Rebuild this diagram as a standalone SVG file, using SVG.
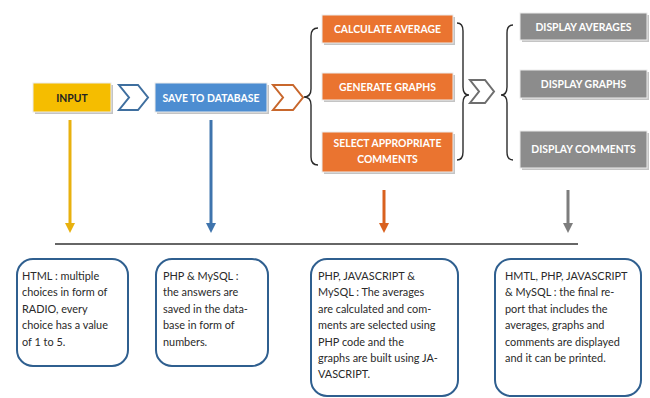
<svg xmlns="http://www.w3.org/2000/svg" width="650" height="398" viewBox="0 0 650 398">
  <style>
    .hdr { font-family: Lato, "Open Sans", "Liberation Sans", sans-serif; font-weight: bold; font-size: 10.4px; text-anchor: middle; fill: #ffffff; }
    .hdr.dark { fill: #222222; }
    .shadow { fill: #c4c4c4; }
    .box { stroke: #ececec; stroke-width: 1; }
    .note { fill: #ffffff; stroke: #2f5f8f; stroke-width: 2; }
    .body { font-family: Lato, "Open Sans", "Liberation Sans", sans-serif; font-size: 10.9px; fill: #2a2a2a; }
    .brace { fill: none; stroke: #2b2b2b; stroke-width: 1.4; }
    .chev { fill: #ffffff; stroke-width: 2; stroke-linejoin: miter; }
  </style>
  <defs>
    <marker id="ahYellow" viewBox="0 0 10 10" refX="0" refY="5" markerWidth="10" markerHeight="10" markerUnits="userSpaceOnUse" orient="auto">
      <path d="M0,0 L10,5 L0,10 Z" fill="#e8b10e"/>
    </marker>
    <marker id="ahBlue" viewBox="0 0 10 10" refX="0" refY="5" markerWidth="10" markerHeight="10" markerUnits="userSpaceOnUse" orient="auto">
      <path d="M0,0 L10,5 L0,10 Z" fill="#3f74ad"/>
    </marker>
    <marker id="ahOrange" viewBox="0 0 10 10" refX="0" refY="5" markerWidth="10" markerHeight="10" markerUnits="userSpaceOnUse" orient="auto">
      <path d="M0,0 L10,5 L0,10 Z" fill="#d9611f"/>
    </marker>
    <marker id="ahGray" viewBox="0 0 10 10" refX="0" refY="5" markerWidth="10" markerHeight="10" markerUnits="userSpaceOnUse" orient="auto">
      <path d="M0,0 L10,5 L0,10 Z" fill="#7d7d7d"/>
    </marker>
  </defs>

  <rect width="650" height="398" fill="#ffffff"/>

  <!-- process stages -->
  <g id="input">
    <rect class="shadow" x="35" y="85" width="78" height="29"/>
    <rect class="box" x="33" y="83" width="78" height="29" fill="#f5bd00"/>
    <text class="hdr dark" x="72" y="101.5">INPUT</text>
  </g>
  <g id="save-db">
    <rect class="shadow" x="157" y="85" width="112" height="29"/>
    <rect class="box" x="155" y="83" width="112" height="29" fill="#4d8dd1"/>
    <text class="hdr" x="211" y="101.5">SAVE TO DATABASE</text>
  </g>
  <g id="calc-average">
    <rect class="shadow" x="324" y="17" width="131" height="28"/>
    <rect class="box" x="322" y="15" width="131" height="28" fill="#ea7430"/>
    <text class="hdr" x="387.5" y="33">CALCULATE AVERAGE</text>
  </g>
  <g id="gen-graphs">
    <rect class="shadow" x="324" y="75" width="131" height="27"/>
    <rect class="box" x="322" y="73" width="131" height="27" fill="#ea7430"/>
    <text class="hdr" x="387.5" y="90.5">GENERATE GRAPHS</text>
  </g>
  <g id="select-comments">
    <rect class="shadow" x="324" y="134" width="131" height="40"/>
    <rect class="box" x="322" y="132" width="131" height="40" fill="#ea7430"/>
    <text class="hdr" x="387.5" y="147">SELECT APPROPRIATE</text>
    <text class="hdr" x="387.5" y="162.5">COMMENTS</text>
  </g>
  <g id="disp-averages">
    <rect class="shadow" x="522" y="15" width="127" height="27"/>
    <rect class="box" x="520" y="13" width="127" height="27" fill="#8c8c8c"/>
    <text class="hdr" x="583.5" y="30.5">DISPLAY AVERAGES</text>
  </g>
  <g id="disp-graphs">
    <rect class="shadow" x="522" y="72" width="127" height="28"/>
    <rect class="box" x="520" y="70" width="127" height="28" fill="#8c8c8c"/>
    <text class="hdr" x="583.5" y="88">DISPLAY GRAPHS</text>
  </g>
  <g id="disp-comments">
    <rect class="shadow" x="522" y="133" width="127" height="37"/>
    <rect class="box" x="520" y="131" width="127" height="37" fill="#8c8c8c"/>
    <text class="hdr" x="583.5" y="153">DISPLAY COMMENTS</text>
  </g>

  <!-- description notes -->
  <g id="note-html">
    <rect class="note" x="17" y="259" width="111" height="107" rx="16"/>
    <text class="body" x="22" y="280">
      <tspan x="22">HTML : multiple</tspan>
      <tspan x="22" dy="16.4">choices in form of</tspan>
      <tspan x="22" dy="16.4">RADIO, every</tspan>
      <tspan x="22" dy="16.4">choice has a value</tspan>
      <tspan x="22" dy="16.4">of 1 to 5.</tspan>
    </text>
  </g>
  <g id="note-php">
    <rect class="note" x="156" y="259" width="112" height="107" rx="16"/>
    <text class="body" x="163" y="280">
      <tspan x="163">PHP &amp; MySQL :</tspan>
      <tspan x="163" dy="16.4">the answers are</tspan>
      <tspan x="163" dy="16.4">saved in the data-</tspan>
      <tspan x="163" dy="16.4">base in form of</tspan>
      <tspan x="163" dy="16.4">numbers.</tspan>
    </text>
  </g>
  <g id="note-calc">
    <rect class="note" x="311" y="259" width="147" height="137" rx="16"/>
    <text class="body" x="318" y="280">
      <tspan x="318">PHP, JAVASCRIPT &amp;</tspan>
      <tspan x="318" dy="16.4">MySQL : The averages</tspan>
      <tspan x="318" dy="16.4">are calculated and com-</tspan>
      <tspan x="318" dy="16.4">ments are selected using</tspan>
      <tspan x="318" dy="16.4">PHP code and the</tspan>
      <tspan x="318" dy="16.4">graphs are built using JA-</tspan>
      <tspan x="318" dy="16.4">VASCRIPT.</tspan>
    </text>
  </g>
  <g id="note-report">
    <rect class="note" x="495" y="259" width="146" height="137" rx="16"/>
    <text class="body" x="505" y="280">
      <tspan x="505">HMTL, PHP, JAVASCRIPT</tspan>
      <tspan x="505" dy="16.4">&amp; MySQL : the final re-</tspan>
      <tspan x="505" dy="16.4">port that includes the</tspan>
      <tspan x="505" dy="16.4">averages, graphs and</tspan>
      <tspan x="505" dy="16.4">comments are displayed</tspan>
      <tspan x="505" dy="16.4">and it can be printed.</tspan>
    </text>
  </g>

  <!-- connectors: chevrons, braces, drop arrows, baseline -->
  <g id="connectors">
    <path class="chev" stroke="#3f6f9f" d="M119,85 L138,85 L148,97.5 L138,110 L119,110 L129,97.5 Z"/>
    <path class="chev" stroke="#c8672c" d="M273,85 L293,85 L303,97.5 L293,110 L273,110 L283,97.5 Z"/>
    <path class="chev" stroke="#6e6e6e" d="M470,80 L485,80 L494,91.5 L485,103 L470,103 L479,91.5 Z"/>

    <path class="brace" d="M318,28 Q311,28 311,36 L311,89 Q311,97 304,97 Q311,97 311,105 L311,157 Q311,165 318,165"/>
    <path class="brace" d="M457,23 Q463,23 463,31 L463,87 Q463,95 469,95 Q463,95 463,103 L463,152 Q463,160 457,160"/>
    <path class="brace" d="M513,25 Q507,25 507,33 L507,87 Q507,95 501,95 Q507,95 507,103 L507,152 Q507,160 513,160"/>

    <line x1="70" y1="120" x2="70" y2="223" stroke="#e8b10e" stroke-width="3" marker-end="url(#ahYellow)"/>
    <line x1="211" y1="120" x2="211" y2="223" stroke="#3f74ad" stroke-width="3" marker-end="url(#ahBlue)"/>
    <line x1="384" y1="190" x2="384" y2="223" stroke="#d9611f" stroke-width="3" marker-end="url(#ahOrange)"/>
    <line x1="568" y1="190" x2="568" y2="223" stroke="#7d7d7d" stroke-width="3" marker-end="url(#ahGray)"/>

    <line x1="55" y1="244" x2="578" y2="244" stroke="#333333" stroke-width="1.5"/>
  </g>
</svg>
